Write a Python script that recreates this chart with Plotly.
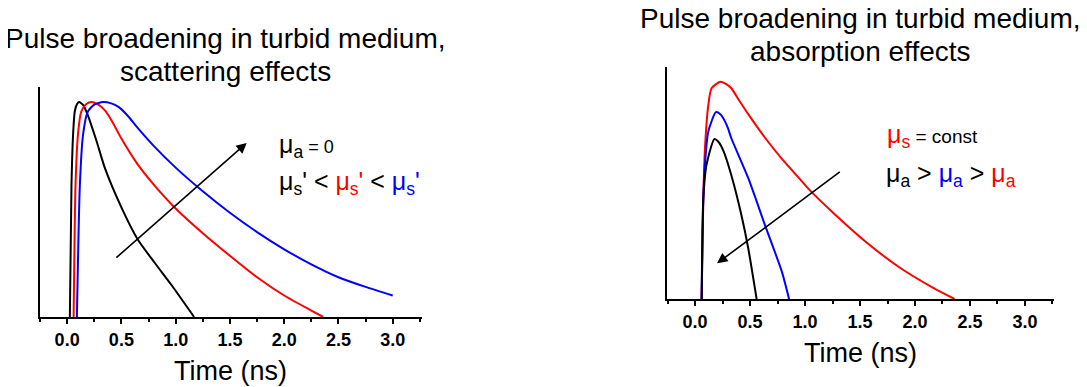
import plotly.graph_objects as go

# ---- data (normalized intensity, peak = 1) ----
ticks_x = [0.0, 0.5, 1.0, 1.5, 2.0, 2.5, 3.0]

left_black_t = [0.025, 0.04, 0.055, 0.07, 0.09, 0.11, 0.15, 0.19, 0.27, 0.35, 0.50, 0.648, 0.81, 0.96, 1.17]
left_black_y = [0.0, 0.61, 0.85, 0.955, 0.99, 1.0, 0.985, 0.94, 0.82, 0.69, 0.51, 0.363, 0.25, 0.15, 0.0]

left_red_t = [0.06, 0.077, 0.10, 0.13, 0.17, 0.22, 0.28, 0.35, 0.42, 0.50, 0.65, 0.80, 1.00, 1.25, 1.50, 1.75, 2.00, 2.25, 2.36]
left_red_y = [0.0, 0.61, 0.85, 0.955, 0.988, 1.0, 0.99, 0.96, 0.905, 0.83, 0.71, 0.615, 0.505, 0.39, 0.285, 0.185, 0.10, 0.03, 0.0]

left_blue_t = [0.09, 0.117, 0.147, 0.19, 0.25, 0.33, 0.40, 0.48, 0.56, 0.65, 0.80, 1.00, 1.25, 1.50, 1.75, 2.00, 2.25, 2.50, 2.75, 3.00]
left_blue_y = [0.0, 0.61, 0.85, 0.955, 0.988, 1.0, 0.995, 0.975, 0.935, 0.88, 0.795, 0.695, 0.585, 0.485, 0.395, 0.315, 0.245, 0.185, 0.14, 0.10]

right_red_t = [0.06, 0.075, 0.09, 0.12, 0.15, 0.23, 0.28, 0.33, 0.40, 0.485, 0.64, 0.79, 0.94, 1.045, 1.26, 1.56, 1.86, 2.17, 2.36]
right_red_y = [0.0, 0.46, 0.69, 0.89, 0.97, 1.0, 0.99, 0.97, 0.915, 0.85, 0.74, 0.645, 0.56, 0.50, 0.395, 0.26, 0.145, 0.05, 0.0]

right_blue_t = [0.06, 0.075, 0.09, 0.12, 0.19, 0.23, 0.27, 0.30, 0.33, 0.485, 0.636, 0.79, 0.855]
right_blue_y = [0.0, 0.46, 0.62, 0.77, 0.86, 0.85, 0.82, 0.785, 0.74, 0.555, 0.34, 0.125, 0.0]

right_black_t = [0.06, 0.075, 0.105, 0.175, 0.21, 0.26, 0.33, 0.42, 0.485, 0.56]
right_black_y = [0.0, 0.46, 0.62, 0.736, 0.725, 0.68, 0.57, 0.39, 0.23, 0.0]

# arrows (tail -> head) in data units
left_arrow = [(0.44, 0.27), (1.655, 0.81)]
right_arrow = [(1.33, 0.59), (0.20, 0.164)]

FONT = "Liberation Sans, Arial, sans-serif"
OFF = 8                      # page body margin
W, H = 1087 - OFF, 387 - OFF

def PX(x):
    return (x - OFF) / W

def PY(y):
    return 1 - (y - OFF) / H

fig = go.Figure()

def add(t, y, color, xa, ya):
    fig.add_trace(go.Scatter(x=t, y=y, mode="lines", xaxis=xa, yaxis=ya,
                             line=dict(color=color, width=2, shape="spline", smoothing=0.6),
                             showlegend=False, hoverinfo="skip"))

add(left_black_t, left_black_y, "black", "x", "y")
add(left_red_t, left_red_y, "#ff0000", "x", "y")
add(left_blue_t, left_blue_y, "#0000ff", "x", "y")
add(right_red_t, right_red_y, "#ff0000", "x2", "y2")
add(right_blue_t, right_blue_y, "#0000ff", "x2", "y2")
add(right_black_t, right_black_y, "black", "x2", "y2")

def xaxis(domain, rng):
    return dict(domain=domain, range=rng, showline=True, linewidth=2, linecolor="black",
                ticks="outside", ticklen=5, tickwidth=1.5, tickcolor="black",
                tickvals=ticks_x, ticktext=[f"{v:.1f}" for v in ticks_x],
                tickfont=dict(family=FONT, size=18, color="black", weight="bold"),
                minor=dict(ticks="outside", ticklen=3, tickwidth=1.5, tickcolor="black",
                           dtick=0.25, tick0=0),
                showgrid=False, zeroline=False)

def yaxis(domain, rng, anchor):
    return dict(domain=domain, range=rng, showline=True, linewidth=2, linecolor="black",
                showticklabels=False, ticks="", showgrid=False, zeroline=False, anchor=anchor)

fig.update_layout(
    width=W, height=H, margin=dict(l=0, r=0, t=0, b=0),
    paper_bgcolor="white", plot_bgcolor="white",
    xaxis=dict(**xaxis([PX(40), PX(422)], [-0.25, 3.27]), anchor="y"),
    yaxis=yaxis([PY(317), PY(87)], [0, 1.07], "x"),
    xaxis2=dict(**xaxis([PX(667), PX(1054)], [-0.255, 3.264]), anchor="y2"),
    yaxis2=yaxis([PY(299), PY(67)], [0, 1.068], "x2"),
    font=dict(family=FONT, color="black"),
)

def ptext(x, y, text, size, xanchor="center"):
    fig.add_annotation(x=PX(x), y=PY(y), xref="paper", yref="paper", text=text,
                       showarrow=False, xanchor=xanchor, yanchor="middle",
                       font=dict(family=FONT, size=size, color="black"))

# titles
ptext(225, 38, "Pulse broadening in turbid medium,", 28)
ptext(225, 71, "scattering effects", 28)
ptext(860, 18, "Pulse broadening in turbid medium,", 28)
ptext(860, 51, "absorption effects", 28)
# axis titles
ptext(230, 371, "Time (ns)", 27)
ptext(860, 353, "Time (ns)", 27)

R = "<span style='color:#ff0000'>"
B = "<span style='color:#0000ff'>"
E = "</span>"
BIG = "<span style='font-size:25px'>"
ptext(277, 146, f"{BIG}μ<sub>a</sub>{E} = 0", 18, "left")
ptext(277, 183, f"μ<sub>s</sub>' &lt; {R}μ<sub>s</sub>'{E} &lt; {B}μ<sub>s</sub>'{E}", 25, "left")
ptext(885, 136, f"<span style='font-size:25px;color:#ff0000'>μ<sub>s</sub>{E} = const", 19, "left")
ptext(884, 175, f"μ<sub>a</sub> &gt; {B}μ<sub>a</sub>{E} &gt; {R}μ<sub>a</sub>{E}", 25, "left")

for (t0, y0), (t1, y1), xr, yr in [(left_arrow[0], left_arrow[1], "x", "y"),
                                   (right_arrow[0], right_arrow[1], "x2", "y2")]:
    fig.add_annotation(x=t1, y=y1, ax=t0, ay=y0, xref=xr, yref=yr, axref=xr, ayref=yr,
                       showarrow=True, arrowhead=2, arrowsize=1.3, arrowwidth=1.6,
                       arrowcolor="black", text="")

fig.write_html("out.html")
